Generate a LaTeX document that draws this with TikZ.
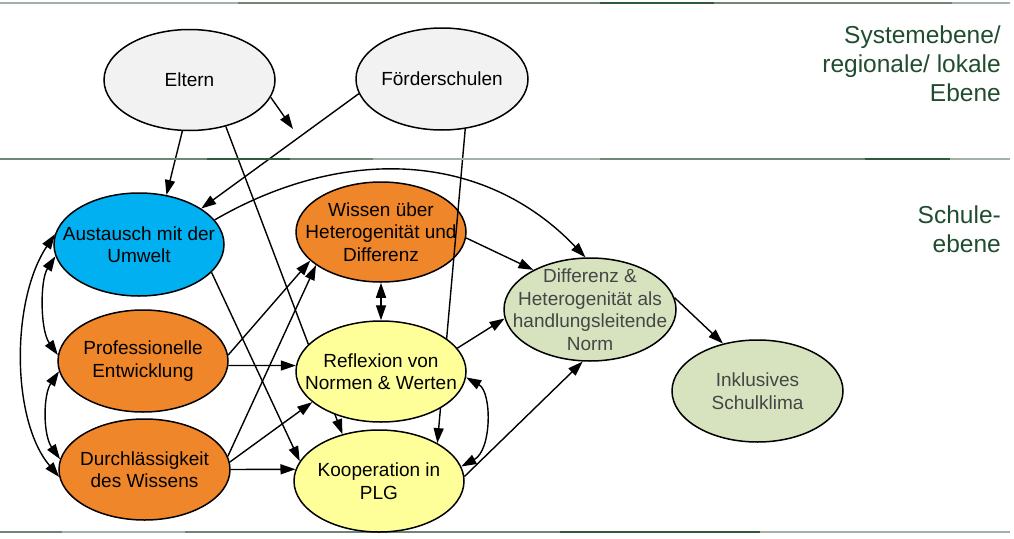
\documentclass[tikz,border=0pt]{standalone}
\usepackage{fontspec}
\setmainfont{Liberation Sans}
\usetikzlibrary{shapes.geometric,arrows.meta}
\pgfdeclarelayer{bg}\pgfdeclarelayer{wl}\pgfdeclarelayer{mid}
\pgfsetlayers{bg,wl,mid,main}
\definecolor{ovgray}{HTML}{F2F2F2}
\definecolor{ovblue}{HTML}{00B0F0}
\definecolor{ovorange}{HTML}{F0862A}
\definecolor{ovyellow}{HTML}{FFFF99}
\definecolor{ovgreen}{HTML}{D7E3BF}
\definecolor{lvtext}{HTML}{1F4D2E}
\definecolor{ntext}{HTML}{454545}
\definecolor{hlA}{HTML}{A3B1A6}
\definecolor{hlB}{HTML}{6F8575}
\definecolor{hlC}{HTML}{2F5A3B}
\begin{document}
\begin{tikzpicture}[x=1pt,y=-1pt,
  ell/.style={ellipse, draw=black, line width=1.5pt, inner sep=0pt},
  lbl/.style={align=center, font=\fontsize{19}{22.5}\selectfont},
  glbl/.style={lbl, text=ntext},
  lvl/.style={align=right, text=lvtext, font=\fontsize{24.5}{29}\selectfont, inner sep=0pt},
  conn/.style={line width=1.4pt, -{Triangle[length=15pt,width=10pt]}},
  dconn/.style={line width=1.4pt, {Triangle[length=15pt,width=10pt]}-{Triangle[length=15pt,width=10pt]}},
  hline/.style={line width=2pt}]
\useasboundingbox (0,0) rectangle (1014,538);
% level separators
\draw[hline,hlA] (0,2.5) -- (238,2.5);
\draw[hline,hlB] (238,2.5) -- (600,2.5);
\draw[hline,hlC] (600,2.5) -- (714,2.5);
\draw[hline,hlB] (714,2.5) -- (952,2.5);
\draw[hline,hlA] (952,2.5) -- (1010,2.5);
\draw[hline,hlB] (0,158.5) -- (207,158.5);
\draw[hline,hlC] (207,158.5) -- (290,158.5);
\draw[hline,hlB] (290,158.5) -- (373,158.5);
\draw[hline,hlA] (373,158.5) -- (600,158.5);
\draw[hline,hlB] (600,158.5) -- (865,158.5);
\draw[hline,hlC] (865,158.5) -- (950,158.5);
\draw[hline,hlA] (950,158.5) -- (1010,158.5);
\draw[hline,hlB] (0,532) -- (62,532);
\draw[hline,hlA] (62,532) -- (185,532);
\draw[hline,hlB] (185,532) -- (560,532);
\draw[hline,hlC] (560,532) -- (760,532);
\draw[hline,hlA] (760,532) -- (1010,532);
% level labels
\node[lvl, anchor=east] (sys) at (1001,64) {Systemebene/\\regionale/ lokale\\Ebene};
\node[lvl, anchor=east] (sch) at (1001,229) {Schule-\\ebene};
% nodes
\node[ell, fill=ovgray, minimum width=171pt, minimum height=101pt,
  label={[lbl]center:{Eltern}}] (eltern) at (189.5,80) {};
\node[ell, fill=ovgray, minimum width=172pt, minimum height=102pt,
  label={[lbl]center:{Förderschulen}}] (foerder) at (442,79) {};
\node[ell, fill=ovblue, minimum width=170pt, minimum height=103pt,
  label={[lbl]center:{Austausch mit der\\Umwelt}}] (aust) at (139,244.5) {};
\begin{pgfonlayer}{wl}
\node[ell, fill=ovorange, minimum width=170pt, minimum height=100pt,
  label={[lbl]center:{Wissen über\\Heterogenität und\\Differenz}}] (wissen) at (381,232) {};
\end{pgfonlayer}
\node[ell, fill=ovorange, minimum width=170pt, minimum height=102pt,
  label={[lbl]center:{Professionelle\\Entwicklung}}] (prof) at (143,361) {};
\node[ell, fill=ovorange, minimum width=171pt, minimum height=101pt,
  label={[lbl]center:{Durchlässigkeit\\des Wissens}}] (durch) at (144.5,469.5) {};
\node[ell, fill=ovyellow, minimum width=170pt, minimum height=101pt,
  label={[lbl]center:{Reflexion von\\Normen \& Werten}}] (refl) at (381,371.5) {};
\node[ell, fill=ovyellow, minimum width=170pt, minimum height=102pt,
  label={[lbl]center:{Kooperation in\\PLG}}] (koop) at (379,481) {};
\node[ell, fill=ovgreen, minimum width=172pt, minimum height=103pt,
  label={[glbl]center:{Differenz \&\\Heterogenität als\\handlungsleitende\\Norm}}] (diff) at (590,309.5) {};
\node[ell, fill=ovgreen, minimum width=171pt, minimum height=102pt,
  label={[glbl]center:{Inklusives\\Schulklima}}] (inkl) at (757.5,391) {};
\coordinate (dang) at (293,129);
% connectors
\begin{pgfonlayer}{bg}
\draw[conn] (eltern.262) -- (aust.61);
\draw[conn] (eltern.348) -- (dang);
\draw[conn] (eltern.308) -- (koop.128);
\draw[conn] (foerder.190) -- (aust.30);
\draw[conn] (aust.18) .. controls (342,146) and (483,150) .. (diff.95);
\draw[conn] (aust.339) -- (koop.166);
\draw[dconn] (aust.188) .. controls (40,280) and (40,330) .. (prof.176);
\draw[dconn] (aust.173) .. controls (11,300) and (11,420) .. (durch.185);
\draw[dconn] (prof.187) .. controls (43,395) and (43,435) .. (durch.173);
\draw[conn] (prof.4) -- (wissen.202);
\draw[conn] (prof.357) -- (refl.176);
\draw[conn] (durch.9) -- (wissen.207);
\draw[conn] (durch.5) -- (refl.204);
\draw[conn] (durch.0) -- (koop.172);
\draw[dconn] (wissen.270) -- (refl.90);
\draw[conn] (wissen.356) -- (diff.145);
\draw[conn] (refl.17) -- (diff.186);
\draw[dconn] (refl.356) .. controls (492,392) and (492,450) .. (koop.10);
\draw[conn] (koop.3) -- (diff.262);
\draw[conn] (diff.8) -- (inkl.126);
\end{pgfonlayer}
\begin{pgfonlayer}{mid}
\draw[conn] (foerder.295) -- (koop.33);
\end{pgfonlayer}
\end{tikzpicture}
\end{document}
